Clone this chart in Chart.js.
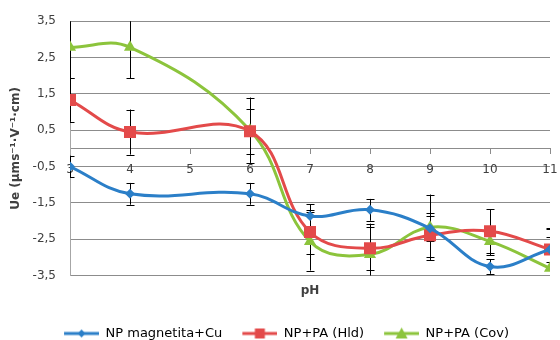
<!DOCTYPE html>
<html>
<head>
<meta charset="utf-8">
<script src="https://cdn.jsdelivr.net/npm/chart.js@4.4.0/dist/chart.umd.min.js"></script>
<style>
html, body { margin: 0; padding: 0; background: #fff; }
#wrap { width: 560px; height: 340px; position: relative; }
</style>
</head>
<body>
<div id="wrap"><canvas id="chart"></canvas></div>
<script>
// valores (pH vs movilidad electroforética)
var PH = [3, 4, 6, 7, 8, 9, 10, 11];
var MAGNETITA_CU = [-0.5, -1.25, -1.25, -1.86, -1.69, -2.2, -3.25, -2.78];
var PA_HID = [1.33, 0.45, 0.47, -2.3, -2.75, -2.39, -2.28, -2.78];
var PA_COV = [2.78, 2.78, 0.5, -2.56, -2.92, -2.17, -2.56, -3.3];
var ERR_MAGNETITA_CU = [0.3, 0.3, 0.3, 0.33, 0.3, 0.35, 0.2, 0.35];
var ERR_PA_HID = [0.6, 0.62, 0.62, 0.6, 0.6, 0.6, 0.6, 0.55];
var ERR_PA_COV = [0.85, 0.85, 0.9, 0.8, 0.85, 0.9, 0.38, 1.1];
var Y_TICKS = [-3.5, -2.5, -1.5, -0.5, 0.5, 1.5, 2.5, 3.5];
var SERIES_LABELS = ['NP magnetita+Cu', 'NP+PA (Hld)', 'NP+PA (Cov)'];

var FONT = 'DejaVu Sans';
var TEXT = '#404040';
var GRID = '#8c8c8c';

function pts(values) {
    return PH.map(function (p, i) { return { x: p, y: values[i] }; });
}

function fmt(v) {
    return String(v).replace('.', ',');
}

// sin relleno extra para las etiquetas extremas del eje x
function noSidePadding(axis) {
    axis.paddingLeft = 0;
    axis.paddingRight = 0;
}

// icono de leyenda: línea con marcador (como en Excel), con margen a la izquierda
function legendIcon(color, style) {
    var c = document.createElement('canvas');
    c.width = 52; c.height = 14;
    var g = c.getContext('2d');
    var cx = 34.5;
    g.strokeStyle = color;
    g.lineWidth = 3;
    g.beginPath(); g.moveTo(17, 7); g.lineTo(52, 7); g.stroke();
    g.fillStyle = color;
    g.beginPath();
    if (style === 'rect') {
        g.rect(cx - 5, 2, 10, 10);
    } else if (style === 'rectRot') {
        g.moveTo(cx, 3); g.lineTo(cx + 4, 7); g.lineTo(cx, 11); g.lineTo(cx - 4, 7); g.closePath();
    } else {
        g.moveTo(cx, 1); g.lineTo(cx + 6, 12); g.lineTo(cx - 6, 12); g.closePath();
    }
    g.fill();
    return c;
}

var errorBars = {
    id: 'errorBars',
    beforeDatasetsDraw: function (chart) {
        var ctx = chart.ctx;
        var area = chart.chartArea;
        var xs = chart.scales.x, ys = chart.scales.y;
        ctx.save();
        ctx.beginPath();
        ctx.rect(area.left, area.top, area.right - area.left, area.bottom - area.top);
        ctx.clip();
        ctx.strokeStyle = '#000';
        ctx.lineWidth = 1;
        chart.data.datasets.forEach(function (ds) {
            ds.data.forEach(function (p, i) {
                var e = ds.errors[i];
                var x = Math.round(xs.getPixelForValue(p.x)) + 0.5;
                var y1 = ys.getPixelForValue(p.y + e);
                var y2 = ys.getPixelForValue(p.y - e);
                ctx.beginPath();
                ctx.moveTo(x, y1); ctx.lineTo(x, y2);
                ctx.moveTo(x - 4, Math.round(y1) + 0.5); ctx.lineTo(x + 4, Math.round(y1) + 0.5);
                ctx.moveTo(x - 4, Math.round(y2) + 0.5); ctx.lineTo(x + 4, Math.round(y2) + 0.5);
                ctx.stroke();
            });
        });
        ctx.restore();
    }
};

function series(label, values, errors, color, style, radius) {
    return {
        label: label,
        data: pts(values),
        errors: errors,
        borderColor: color,
        backgroundColor: color,
        borderWidth: 3,
        tension: 0.4,
        pointStyle: style,
        pointRadius: radius,
        pointBorderWidth: 0,
        pointBackgroundColor: color
    };
}

new Chart(document.getElementById('chart'), {
    type: 'line',
    data: {
        datasets: [
            series(SERIES_LABELS[0], MAGNETITA_CU, ERR_MAGNETITA_CU, '#2b7fc8', 'rectRot', 5),
            series(SERIES_LABELS[1], PA_HID, ERR_PA_HID, '#e34a4a', 'rect', 8.5),
            series(SERIES_LABELS[2], PA_COV, ERR_PA_COV, '#8cc43c', 'triangle', 7)
        ]
    },
    options: {
        responsive: true,
        maintainAspectRatio: false,
        animation: false,
        layout: { padding: { top: 18, right: 10, bottom: 0, left: 6 } },
        plugins: {
            legend: {
                position: 'bottom',
                maxHeight: 16,
                labels: {
                    usePointStyle: true,
                    pointStyleWidth: 52,
                    padding: 3,
                    color: TEXT,
                    font: { family: FONT, size: 13 },
                    generateLabels: function (chart) {
                        return chart.data.datasets.map(function (ds, i) {
                            return {
                                text: ds.label,
                                pointStyle: legendIcon(ds.borderColor, ds.pointStyle),
                                fillStyle: ds.borderColor,
                                strokeStyle: ds.borderColor,
                                lineWidth: 0,
                                datasetIndex: i,
                                hidden: false
                            };
                        });
                    }
                }
            },
            tooltip: { enabled: false }
        },
        scales: {
            x: {
                type: 'linear',
                position: { y: 0 },
                min: 3,
                max: 11,
                afterFit: noSidePadding,
                ticks: { stepSize: 1, color: TEXT, font: { family: FONT, size: 12 }, padding: 9 },
                grid: { drawOnChartArea: false, tickLength: 5, color: GRID },
                border: { color: GRID }
            },
            x2: {
                type: 'linear',
                axis: 'x',
                position: 'bottom',
                min: 3,
                max: 11,
                afterFit: noSidePadding,
                ticks: { display: false },
                grid: { display: false },
                border: { display: false },
                title: { display: true, text: 'pH', color: TEXT, font: { family: FONT, size: 12, weight: 'bold' }, padding: { top: 0, bottom: 26 } }
            },
            y: {
                min: -3.5,
                max: 3.5,
                afterBuildTicks: function (axis) {
                    axis.ticks = Y_TICKS.map(function (v) { return { value: v }; });
                },
                afterFit: function (axis) { axis.width = 64; },
                ticks: { color: TEXT, font: { family: FONT, size: 12 }, padding: 14, callback: function (v) { return fmt(v); } },
                grid: { color: GRID, drawTicks: false },
                border: { color: '#a6a6a6' },
                title: { display: true, text: 'Ue (μms⁻¹·V⁻¹·cm)', color: TEXT, font: { family: FONT, size: 12, weight: 'bold' }, padding: { top: 3, bottom: 4 } }
            }
        }
    },
    plugins: [errorBars]
});
</script>
</body>
</html>
